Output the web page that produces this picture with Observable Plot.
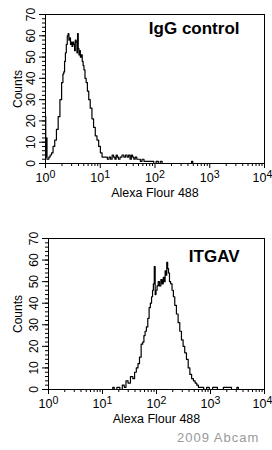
<!DOCTYPE html>
<html>
<head>
<meta charset="utf-8">
<script src="https://cdn.jsdelivr.net/npm/d3@7"></script>
<script src="https://cdn.jsdelivr.net/npm/@observablehq/plot@0.6"></script>
<style>
  html, body { margin: 0; padding: 0; background: #fff; }
  body { width: 272px; height: 450px; position: relative; font-family: Arial, "Liberation Sans", sans-serif; overflow: hidden; }
  .credit { position: absolute; left: 177px; top: 430px; font-size: 13px; color: #9a9a9a; letter-spacing: 1px; }
  svg { display: block; }
</style>
</head>
<body>
<div id="top"></div>
<div id="bottom"></div>
<div class="credit">2009 Abcam</div>
<script>
// IgG control histogram (fluorescence intensity, counts)
const iggX = [1.00,1.02,1.05,1.08,1.12,1.18,1.25,1.33,1.42,1.53,1.64,1.77,1.90,2.04,2.12,2.19,2.27,2.35,2.45,2.55,2.63,2.72,2.82,2.90,3.00,3.10,3.20,3.35,3.45,3.55,3.70,3.80,3.90,4.03,4.15,4.26,4.40,4.60,4.78,4.95,5.13,5.40,5.66,6.00,6.33,6.80,7.31,7.80,8.43,9.00,9.72,10.4,11.2,12.0,13,14,15,16,17,18,19,20,21,22,24,26,28,30,32,34,36,38,40,42,45,48,52,56,60,66,72,80,90,100,110,120,130,140,200,300,450,480,500,1000,10000];
const iggY = [22,3,12,2,2,3,4,5,8,11,16,22,30,38,42,43,48,52,56,60,61,58,59,56,57,55,57,56,53,58,57,52,61,54,51,53,50,51,48,46,44,40,38,34,30,26,21,17,13,11,8,5,3,3,3,2,3,2,4,3,2,4,3,2,3,4,3,4,3,4,2,4,3,2,3,2,2,1,2,1,1,1,1,0,1,0,1,0,0,0,0,1,0,0,0];
// ITGAV histogram
const itgX = [1,10,15,16,17,20,22,24.6,26,28.5,31,35,38,40.6,44,46.9,50,54,57,60,63,67,71,75,79,83,86,89,93,96,100,105,110,117,124,130,137,142,147,152,158,164,170,178,188,200,211,225,243,260,280,300,322,345,373,400,430,465,500,540,575,620,700,800,900,1000,1200,1500,2000,3000,3160,3400,10000];
const itgY = [0,0,0,1,0,1,0,2,1,4,3,6,5,8,10,12,15,21,22,25,27,29,33,38,40,43,46,49,57,44,46,48,50,48,51,49,52,50,55,53,59,56,54,50,49,46,43,39,35,31,27,23,20,17,14,10,7,5,4,3,2,1,1,0,1,0,1,0,1,0,1,0,0];

const titles = ["IgG control", "ITGAV"];
const yTicks = [0,10,20,30,40,50,60,70];
const yMinor = [0,2,4,6,8,10,12,14,16,18,20,22,24,26,28,30,32,34,36,38,40,42,44,46,48,50,52,54,56,58,60,62,64,66,68,70];
const xTicks = [1,10,100,1000,10000];
const xMinor = [];
for (const dec of [1,10,100,1000]) for (let k = 2; k <= 9; k++) xMinor.push(dec * k);

function panel(xs, ys, title, opts) {
  const data = xs.map((x, i) => ({x, y: ys[i]}));
  const p = Plot.plot({
    width: 272,
    height: opts.height,
    marginLeft: opts.ml,
    marginRight: 8,
    marginTop: opts.mt,
    marginBottom: opts.mb,
    style: {fontFamily: "Arial, 'Liberation Sans', sans-serif", fontSize: "11px", color: "#000", background: "#fff", overflow: "visible"},
    x: {type: "log", domain: [1, 10000]},
    y: {domain: [0, 70]},
    marks: [
      Plot.frame({stroke: "#000", strokeWidth: 1}),
      Plot.axisY({ticks: yMinor, tickSize: 3, tickFormat: () => "", label: null}),
      Plot.axisY({ticks: yTicks, tickSize: 6, tickPadding: 5, tickRotate: -90, fontSize: 12,
        label: "Counts", labelAnchor: "center", labelArrow: "none", labelOffset: opts.ml - 13}),
      Plot.axisX({ticks: xMinor, tickSize: 3, tickFormat: () => "", label: null}),
      Plot.axisX({ticks: xTicks, tickSize: 5, tickPadding: 5, fontSize: 12.5,
        tickFormat: d => "10|" + Math.round(Math.log10(d)),
        label: "Alexa Flour 488", labelAnchor: "center", labelArrow: "none", labelOffset: 33}),
      Plot.line(data, {x: "x", y: "y", curve: "step", stroke: "#000", strokeWidth: 1.2}),
      Plot.text([title], {frameAnchor: "top-right", dx: -25, dy: opts.tdy, fontSize: 17, fontWeight: "bold", fill: "#000"})
    ]
  });
  d3.select(p).selectAll('g[aria-label="x-axis tick label"] text').each(function() {
    const t = this.textContent;
    if (t.indexOf("|") < 0) return;
    const [base, exp] = t.split("|");
    const sel = d3.select(this);
    sel.text(null);
    sel.append("tspan").text(base);
    sel.append("tspan").attr("dy", "-0.45em").attr("font-size", "0.85em").text(exp);
    if (exp === "4") sel.attr("dx", "-2");
  });
  return p;
}

document.getElementById("top").append(panel(iggX, iggY, titles[0], {height: 200, ml: 45, mt: 14, mb: 37, tdy: 7}));
document.getElementById("bottom").append(panel(itgX, itgY, titles[1], {height: 225, ml: 48, mt: 38, mb: 36, tdy: 11}));
</script>
</body>
</html>
